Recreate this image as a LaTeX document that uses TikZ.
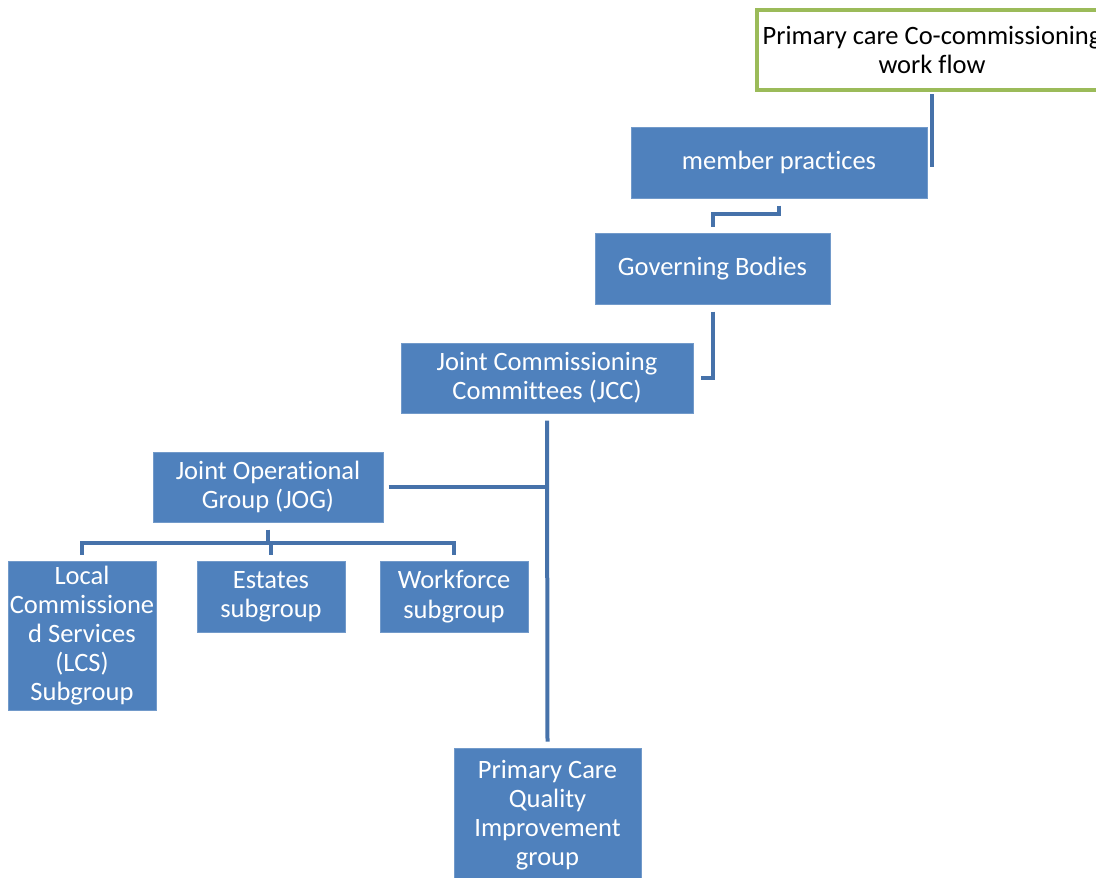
\documentclass[tikz,border=0pt]{standalone}
\usepackage{fontspec}
\setmainfont{Carlito}[Ligatures=NoCommon]
\definecolor{boxblue}{HTML}{4F81BD}
\definecolor{linkblue}{HTML}{4672AA}
\definecolor{framegreen}{HTML}{9BBB59}
\begin{document}
\begin{tikzpicture}[
        x=1pt,
        y=-1pt,
        box/.style={
            rectangle,
            fill=boxblue,
            draw=boxblue!80!white,
            line width=1pt,
            text=white,
            align=center,
            inner sep=0pt,
            font=\fontsize{26.5}{29.2}\selectfont,
        },
        title/.style={
            box,
            fill=white,
            draw=framegreen,
            line width=4pt,
            text=black,
        },
        link/.style={
            draw=linkblue,
            line width=4pt,
        },
    ]

    \clip (0, 0) rectangle (1096, 878);

    \node[title, minimum width=350, minimum height=80]  (title)     at (932, 50)    {Primary care Co-commissioning\\work flow};
    \node[box, minimum width=296, minimum height=71]    (member)    at (779, 162.5) {member practices};
    \node[box, minimum width=235, minimum height=71]    (gov)       at (712.5, 268.5) {Governing Bodies};
    \node[box, minimum width=292, minimum height=70]    (jcc)       at (547, 378)   {Joint Commissioning\\Committees (JCC)};
    \node[box, minimum width=230, minimum height=70]    (jog)       at (268, 487)   {Joint Operational\\Group (JOG)};
    \node[box, minimum width=148, minimum height=149]   (lcs)       at (82, 635.5)  {Local\\Commissione\\d Services\\(LCS)\\Subgroup};
    \node[box, minimum width=148, minimum height=71]    (estates)   at (271, 596.5) {Estates\\subgroup};
    \node[box, minimum width=148, minimum height=71]    (workforce) at (454, 596.5) {Workforce\\subgroup};
    \node[box, minimum width=187, minimum height=134]   (pcqi)      at (547.5, 815) {Primary Care\\Quality\\Improvement\\group};

    \draw[link] ([yshift=-2pt]title.south) -- ++(0, 73);
    \draw[link] ([yshift=-7pt]member.south) -- ++(0, 8) -| ([yshift=6pt]gov.north);
    \draw[link] ([yshift=-7pt]gov.south) |- ([xshift=7pt]jcc.east);
    \draw[link] ([yshift=-7pt]jcc.south) -- ([yshift=6pt]pcqi.north);
    \draw[link] ([xshift=5pt]jog.east) -- (jog.east -| jcc.south);

    \draw[link] ([yshift=-7pt]jog.south) -- ([yshift=-20pt]jog.south);
    \foreach \sub in {lcs, estates, workforce}
        \draw[link] ([yshift=-20pt]jog.south) -| ([yshift=6pt]\sub.north);

\end{tikzpicture}
\end{document}
